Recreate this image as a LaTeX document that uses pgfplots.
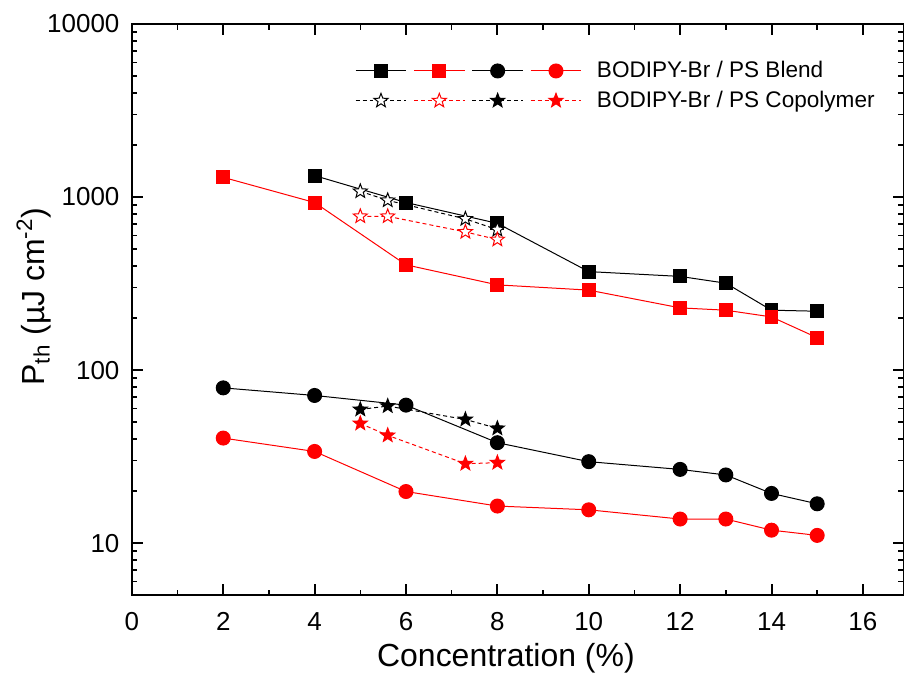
\documentclass[border=0pt]{standalone}
\usepackage{pgfplots}
\pgfplotsset{compat=1.18}
\usepackage{fontspec}
\setmainfont{Liberation Sans}

\pgfdeclareplotmark{pstar}{%
  \pgfpathmoveto{\pgfpointpolar{90}{\pgfplotmarksize}}%
  \pgfpathlineto{\pgfpointpolar{126}{0.42*\pgfplotmarksize}}%
  \pgfpathlineto{\pgfpointpolar{162}{\pgfplotmarksize}}%
  \pgfpathlineto{\pgfpointpolar{198}{0.42*\pgfplotmarksize}}%
  \pgfpathlineto{\pgfpointpolar{234}{\pgfplotmarksize}}%
  \pgfpathlineto{\pgfpointpolar{270}{0.42*\pgfplotmarksize}}%
  \pgfpathlineto{\pgfpointpolar{306}{\pgfplotmarksize}}%
  \pgfpathlineto{\pgfpointpolar{342}{0.42*\pgfplotmarksize}}%
  \pgfpathlineto{\pgfpointpolar{18}{\pgfplotmarksize}}%
  \pgfpathlineto{\pgfpointpolar{54}{0.42*\pgfplotmarksize}}%
  \pgfpathclose
  \pgfusepathqfillstroke
}

\begin{document}
\begin{tikzpicture}
\begin{axis}[
  scale only axis,
  width=386.5pt, height=286pt,
  xmin=0, xmax=16.9,
  ymode=log, ymin=5, ymax=10000,
  xtick={0,2,...,16},
  minor xtick={1,3,...,15},
  ytick={10,100,1000,10000},
  yticklabels={10,100,1000,10000},
  minor ytick={6,7,8,9,20,30,40,50,60,70,80,90,200,300,400,500,600,700,800,900,2000,3000,4000,5000,6000,7000,8000,9000},
  tick align=inside,
  major tick length=5.5pt,
  minor tick length=2.8pt,
  axis line style={line width=1pt},
  major tick style={line width=1pt, black},
  minor tick style={line width=0.8pt, black},
  /pgf/number format/assume math mode=true,
  tick label style={font=\fontsize{13}{15}\selectfont},
  xticklabel style={yshift=-5pt},
  yticklabel style={xshift=-2.7pt},
  label style={font=\fontsize{16}{19}\selectfont},
  xlabel={Concentration (\%)},
  xlabel style={at={(axis description cs:0.5,0)}, anchor=base, yshift=-35.5pt, xshift=-6pt},
  ylabel={P\textsubscript{th} (µJ cm\textsuperscript{-2})},
  ylabel style={at={(axis description cs:-0.127,0.523)}, anchor=center},
  legend columns=4,
  legend cell align=left,
  legend style={draw=none, fill=none, inner sep=0pt,
    at={(rel axis cs:0.2885,0.941)}, anchor=north west,
    font=\fontsize{11.3}{13}\selectfont,
    nodes={inner sep=1.6pt}, row sep=2pt},
  legend image code/.code={\draw[mark repeat=2,mark phase=2] plot coordinates {(0pt,0pt) (12.75pt,0pt) (25.5pt,0pt)};},
  every axis plot/.append style={line width=0.5pt},
]
% Blend
\addplot[black, mark=square*, mark size=3.25pt, mark options={solid, fill=black}] coordinates {
 (4,1330) (6,930) (8,705) (10,371) (12,348) (13,318) (14,222) (15,219)};
\addplot[red, mark=square*, mark size=3.25pt, mark options={solid, fill=red}] coordinates {
 (2,1300) (4,930) (6,406) (8,311) (10,290) (12,229) (13,222) (14,203) (15,154)};
\addplot[black, mark=*, mark size=3.5pt, mark options={solid, fill=black}] coordinates {
 (2,79) (4,71.4) (6,62.8) (8,38.1) (10,29.6) (12,26.7) (13,24.8) (14,19.4) (15,16.9)};
\addplot[red, mark=*, mark size=3.5pt, mark options={solid, fill=red}] coordinates {
 (2,40.5) (4,33.9) (6,19.9) (8,16.4) (10,15.6) (12,13.8) (13,13.8) (14,11.9) (15,11.1)};
% Copolymer
\addplot[black, dash pattern=on 2pt off 1.5pt, mark=pstar, mark size=3.7pt, mark options={solid, fill=white, draw=black}] coordinates {
 (5,1079) (5.6,957) (7.3,748) (8,648)};
\addplot[red, dash pattern=on 2pt off 1.5pt, mark=pstar, mark size=3.7pt, mark options={solid, fill=white, draw=red}] coordinates {
 (5,774) (5.6,774) (7.3,629) (8,568)};
\addplot[black, dash pattern=on 2pt off 1.5pt, mark=pstar, mark size=3.7pt, mark options={solid, fill=black}] coordinates {
 (5,59.3) (5.6,62) (7.3,51.9) (8,46.1)};
\addplot[red, dash pattern=on 2pt off 1.5pt, mark=pstar, mark size=3.7pt, mark options={solid, fill=red}] coordinates {
 (5,49.2) (5.6,42) (7.3,28.8) (8,29.2)};
\legend{\mbox{},\mbox{},\mbox{},\hspace{5.9pt}BODIPY-Br / PS Blend,\mbox{},\mbox{},\mbox{},\hspace{5.9pt}BODIPY-Br / PS Copolymer}
\end{axis}
\pgfresetboundingbox
\path (current axis.south west) ++(-66pt,-39.5pt) rectangle ([yshift=12pt]current axis.north east);
\end{tikzpicture}
\end{document}
